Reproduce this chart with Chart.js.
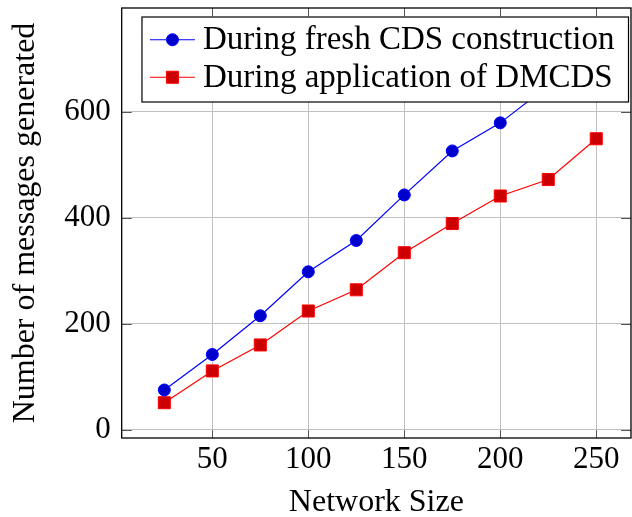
<!DOCTYPE html>
<html>
<head>
<meta charset="utf-8">
<script src="https://cdn.jsdelivr.net/npm/chart.js@4.4.0/dist/chart.umd.min.js"></script>
<style>
  body { margin: 0; background: #fff; }
  canvas { display: block; }
</style>
</head>
<body>
<canvas id="msgChart" width="632" height="517"></canvas>
<script>
// Messages generated vs. network size
let networkSizes = [25, 50, 75, 100, 125, 150, 175, 200, 225, 250];
let freshCdsMessages = [75, 142, 215, 298, 357, 443, 526, 579, 649, 728];
let dmcdsMessages = [51, 111, 160, 224, 264, 334, 389, 441, 472, 549];

let xTicks = [50, 100, 150, 200, 250];
let yTicks = [0, 200, 400, 600];

let serif = "'Liberation Serif', 'DejaVu Serif', serif";

function toPoints(values) {
  return values.map((v, i) => ({ x: networkSizes[i], y: v }));
}

// drop the label overflow padding so the plot box fills the canvas
function noOverflow(scale) {
  scale.paddingTop = 0;
  scale.paddingBottom = 0;
  scale.paddingLeft = 0;
  scale.paddingRight = 0;
}

// frame + inner tick marks like a pgfplots axis
const axisFrame = {
  id: "axisFrame",
  afterDatasetsDraw(chart) {
    let ctx = chart.ctx;
    let a = chart.chartArea;
    let xs = chart.scales.x;
    let ys = chart.scales.y;
    ctx.save();
    ctx.strokeStyle = "#555";
    ctx.lineWidth = 1;
    ctx.beginPath();
    xTicks.forEach((t) => {
      let px = Math.round(xs.getPixelForValue(t)) + 0.5;
      ctx.moveTo(px, a.bottom);
      ctx.lineTo(px, a.bottom - 8);
      ctx.moveTo(px, a.top);
      ctx.lineTo(px, a.top + 8);
    });
    yTicks.forEach((t) => {
      let py = Math.round(ys.getPixelForValue(t)) + 0.5;
      ctx.moveTo(a.left, py);
      ctx.lineTo(a.left + 10, py);
      ctx.moveTo(a.right, py);
      ctx.lineTo(a.right - 10, py);
    });
    ctx.stroke();
    ctx.strokeStyle = "#000";
    ctx.lineWidth = 1.3;
    ctx.strokeRect(a.left, a.top, a.right - a.left, a.bottom - a.top);
    ctx.restore();
  },
};

// boxed legend in the top right corner, drawn over the lines
const legendBox = {
  id: "legendBox",
  afterDraw(chart) {
    let ctx = chart.ctx;
    let a = chart.chartArea;
    ctx.save();
    ctx.font = "33px " + serif;
    let sets = chart.data.datasets;
    let textW = Math.max(...sets.map((d) => ctx.measureText(d.label).width));
    let rowH = 37.5;
    let right = a.right - 2.5;
    let top = a.top + 9;
    let w = 8 + 45 + 8 + textW + 14;
    let h = rowH * sets.length + 10;
    let left = right - w;
    ctx.fillStyle = "#fff";
    ctx.fillRect(left, top, w, h);
    ctx.strokeStyle = "#000";
    ctx.lineWidth = 1.2;
    ctx.strokeRect(left, top, w, h);
    sets.forEach((d, i) => {
      let cy = top + 4 + rowH * (i + 0.5);
      let x0 = left + 8;
      ctx.strokeStyle = d.borderColor;
      ctx.lineWidth = 1.2;
      ctx.beginPath();
      ctx.moveTo(x0, cy);
      ctx.lineTo(x0 + 45, cy);
      ctx.stroke();
      ctx.fillStyle = d.pointBackgroundColor;
      ctx.strokeStyle = d.pointBorderColor;
      ctx.lineWidth = 1;
      ctx.beginPath();
      if (d.pointStyle === "rect") {
        ctx.rect(x0 + 22.5 - 6, cy - 6, 12, 12);
      } else {
        ctx.arc(x0 + 22.5, cy, 6, 0, Math.PI * 2);
      }
      ctx.fill();
      ctx.stroke();
      ctx.fillStyle = "#000";
      ctx.textBaseline = "middle";
      ctx.textAlign = "left";
      ctx.fillText(d.label, x0 + 53, cy + 1);
    });
    ctx.restore();
  },
};

let ctx = document.getElementById("msgChart").getContext("2d");

let myChart = new Chart(ctx, {
  type: "line",
  data: {
    datasets: [
      {
        label: "During fresh CDS construction",
        data: toPoints(freshCdsMessages),
        borderColor: "#0000ff",
        borderWidth: 1.2,
        pointStyle: "circle",
        pointRadius: 6,
        pointBackgroundColor: "#0000cc",
        pointBorderColor: "#0000ff",
        pointBorderWidth: 1,
      },
      {
        label: "During application of DMCDS",
        data: toPoints(dmcdsMessages),
        borderColor: "#ff0000",
        borderWidth: 1.2,
        pointStyle: "rect",
        pointRadius: 8.5,
        pointBackgroundColor: "#cc0000",
        pointBorderColor: "#ff0000",
        pointBorderWidth: 1,
      },
    ],
  },
  options: {
    responsive: false,
    animation: false,
    clip: true,
    layout: { autoPadding: false, padding: { top: 8, right: 1, left: 0, bottom: 0 } },
    plugins: {
      legend: { display: false },
      tooltip: { enabled: false },
    },
    scales: {
      x: {
        type: "linear",
        min: 2.8,
        max: 268.1,
        afterBuildTicks: (scale) => {
          scale.ticks = xTicks.map((v) => ({ value: v }));
        },
        afterFit: (scale) => {
          scale.height = 79;
          noOverflow(scale);
        },
        grid: { color: "#c0c0c0", lineWidth: 1, tickLength: 0, drawTicks: false },
        border: { display: false },
        ticks: {
          color: "#000",
          font: { family: serif, size: 31 },
          padding: 3,
          maxRotation: 0,
        },
        title: {
          display: true,
          text: "Network Size",
          color: "#000",
          font: { family: serif, size: 32 },
          padding: { top: 0, bottom: -5 },
        },
      },
      y: {
        min: -15.6,
        max: 795.7,
        afterBuildTicks: (scale) => {
          scale.ticks = yTicks.map((v) => ({ value: v }));
        },
        afterFit: (scale) => {
          scale.width = 121.7;
          noOverflow(scale);
        },
        grid: { color: "#c0c0c0", lineWidth: 1, tickLength: 0, drawTicks: false },
        border: { display: false },
        ticks: {
          color: "#000",
          font: { family: serif, size: 31 },
          padding: 11,
        },
        title: {
          display: true,
          text: "Number of messages generated",
          color: "#000",
          font: { family: serif, size: 32 },
          padding: { top: 6, bottom: 0 },
        },
      },
    },
  },
  plugins: [axisFrame, legendBox],
});
</script>
</body>
</html>
